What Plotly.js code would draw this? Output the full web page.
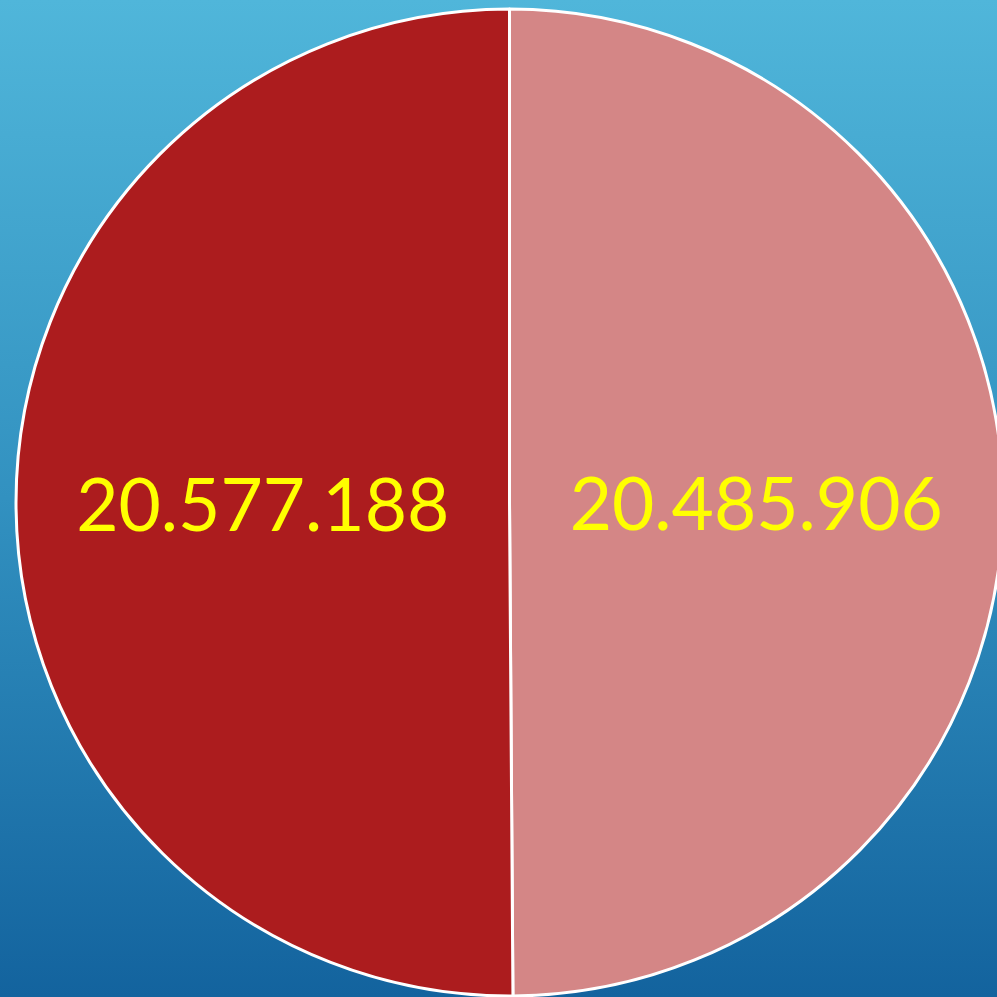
<!DOCTYPE html>
<html>
<head>
<meta charset="utf-8">
<script src="https://cdn.plot.ly/plotly-3.0.1.min.js"></script>
<style>
html, body { margin:0; padding:0; overflow:hidden; width:997px; height:997px;
  background: linear-gradient(to bottom, #50B6DA 0%, #3291C0 50%, #13639E 100%); }
#chart { width:1004px; height:997px; }
</style>
</head>
<body>
<div id="chart"></div>
<script>
const labels = ["Pink slice", "Red slice"];
const values = [20485906, 20577188];
const colors = ["#D48686", "#AC1C1E"];

Plotly.newPlot("chart", [{
  type: "pie",
  labels: labels,
  values: values,
  sort: false,
  direction: "clockwise",
  rotation: 0,
  marker: { colors: colors, line: { color: "#FFFFFF", width: 3 } },
  texttemplate: "%{value:,}",
  textposition: "inside",
  insidetextorientation: "horizontal",
  textfont: { color: "#FFFF00", size: 73, family: "Lato, sans-serif" },
  hoverinfo: "none"
}], {
  width: 1004, height: 997,
  margin: { l: 16, r: 1, t: 9, b: 1 },
  paper_bgcolor: "rgba(0,0,0,0)",
  plot_bgcolor: "rgba(0,0,0,0)",
  showlegend: false,
  separators: ",."
}, { staticPlot: true });
</script>
</body>
</html>
